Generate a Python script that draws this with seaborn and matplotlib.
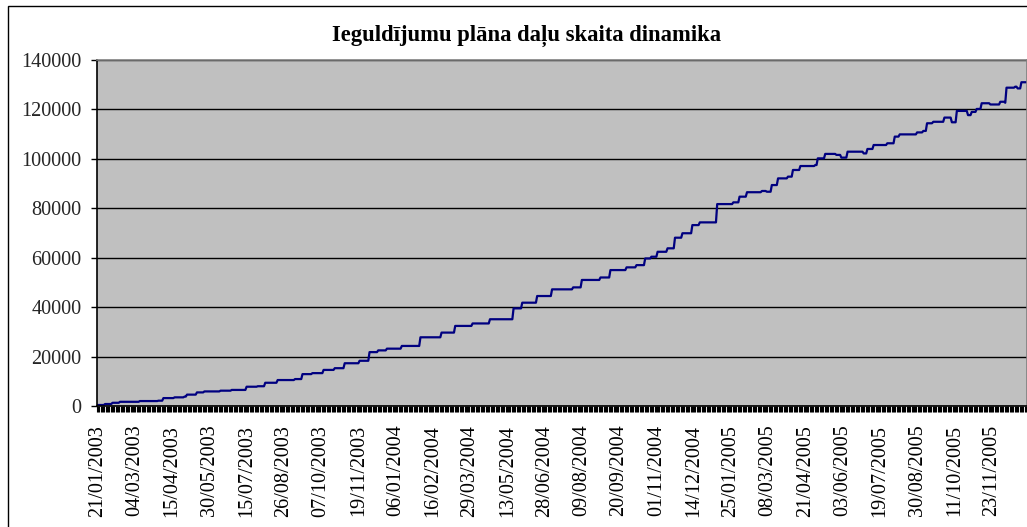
import numpy as np
import pandas as pd
import matplotlib
matplotlib.use("Agg")
import matplotlib.pyplot as plt
import seaborn as sns
from matplotlib.patches import Rectangle

title = "Ieguldījumu plāna daļu skaita dinamika"

# number of trading days shown on the category axis
n_points = 749
label_every = 30
tick_labels = [
    "21/01/2003", "04/03/2003", "15/04/2003", "30/05/2003", "15/07/2003",
    "26/08/2003", "07/10/2003", "19/11/2003", "06/01/2004", "16/02/2004",
    "29/03/2004", "13/05/2004", "28/06/2004", "09/08/2004", "20/09/2004",
    "01/11/2004", "14/12/2004", "25/01/2005", "08/03/2005", "21/04/2005",
    "03/06/2005", "19/07/2005", "30/08/2005", "11/10/2005", "23/11/2005",
]

# values: day index where the level changes, and new level
change_index = [
    0, 6, 12, 18, 34, 49, 53, 62, 70, 72, 80, 86, 99, 108, 120, 129, 135, 145,
    159, 165, 173, 182, 191, 199, 211, 219, 226, 233, 245, 260,
    277, 288, 302, 316, 335, 342, 354, 366, 383, 390, 405, 413, 426, 434,
    441, 446, 451, 459, 465, 471, 479, 485, 499,
    512, 517, 523, 535, 539, 543, 548, 556, 560, 566, 578, 580, 586, 595,
    599, 604, 617, 620, 625, 636, 642, 646, 660, 665, 668, 673, 682, 688,
    692, 701, 704, 708, 712, 719, 727, 731, 732, 739, 741, 744,
]
change_value = [
    400, 800, 1300, 1700, 2000, 2150, 3200, 3500, 3800, 4600, 5500, 5900,
    6200, 6500, 7800, 8000, 9400, 10500, 10900, 12900, 13300, 14600, 15300,
    17300, 18300, 21800, 22500, 23200, 24300, 27800,
    29700, 32400, 33400, 35100, 39500, 41800, 44500, 47200, 48000, 51000,
    52000, 55000, 56100, 57000, 59700, 60400, 62400, 63800, 68100, 69900,
    73200, 74300, 81700,
    82400, 84700, 86500, 87000, 86700, 89400, 92100, 92800, 95500, 97100,
    97500, 100200, 102000, 101600, 100500, 102900, 102200, 104000, 105600,
    106300, 109000, 109900, 110700, 111300, 114400, 115000, 116700, 114800,
    119400, 117700, 119000, 120200, 122500, 122000, 123100, 122700, 128800,
    129200, 128500, 131000,
]

# hold each read level until the next change
values = np.empty(n_points)
for i, (start, v) in enumerate(zip(change_index, change_value)):
    end = change_index[i + 1] if i + 1 < len(change_index) else n_points
    values[start:end] = v
df = pd.DataFrame({"idx": np.arange(n_points), "value": values})

sns.set_theme(style="white")
plt.rcParams['font.family'] = ['Liberation Serif', 'DejaVu Serif']

W, H = 1027, 527
fig = plt.figure(figsize=(W / 100, H / 100), dpi=100)
ax = fig.add_axes([97 / W, 121 / H, 930 / W, 346 / H])
ax.set_facecolor('#C0C0C0')

sns.lineplot(data=df, x='idx', y='value', ax=ax, color='#000080', lw=1.6)

ax.set_xlim(-0.5, n_points - 0.5)
ax.set_ylim(0, 140000)
ax.set_yticks(range(0, 140001, 20000))
ax.set_yticklabels([str(v) for v in range(0, 140001, 20000)])
ax.yaxis.grid(True, color='black', lw=1)
ax.xaxis.grid(False)
ax.set_axisbelow(True)
ax.set_xlabel('')
ax.set_ylabel('')

ax.set_xticks(np.arange(0, n_points, label_every)[:len(tick_labels)])
ax.set_xticklabels(tick_labels, rotation=90)
ax.set_xticks(np.arange(-0.5, n_points, 1), minor=True)
ax.tick_params(axis='x', which='major', length=0, pad=13.5, labelsize=14.6, colors='black')
ax.tick_params(axis='x', which='minor', length=4, width=0.8, color='black', bottom=True)
ax.tick_params(axis='y', which='major', length=4, width=1, color='black', pad=7,
               labelsize=14.6, left=True)

for s in ['left', 'bottom']:
    ax.spines[s].set_color('black')
    ax.spines[s].set_linewidth(1.2)
for s in ['top', 'right']:
    ax.spines[s].set_color('#808080')
    ax.spines[s].set_linewidth(1.2)

fig.text(527 / W, 1 - 36 / H, title, ha='center', va='center',
         fontsize=16.3, fontweight='bold', color='black')

fig.patches.append(Rectangle((8 / W, -0.05), 1.2, 1.05 - 6 / H,
                             transform=fig.transFigure, fill=False,
                             ec='black', lw=1))

fig.savefig('out.png', dpi=100)
